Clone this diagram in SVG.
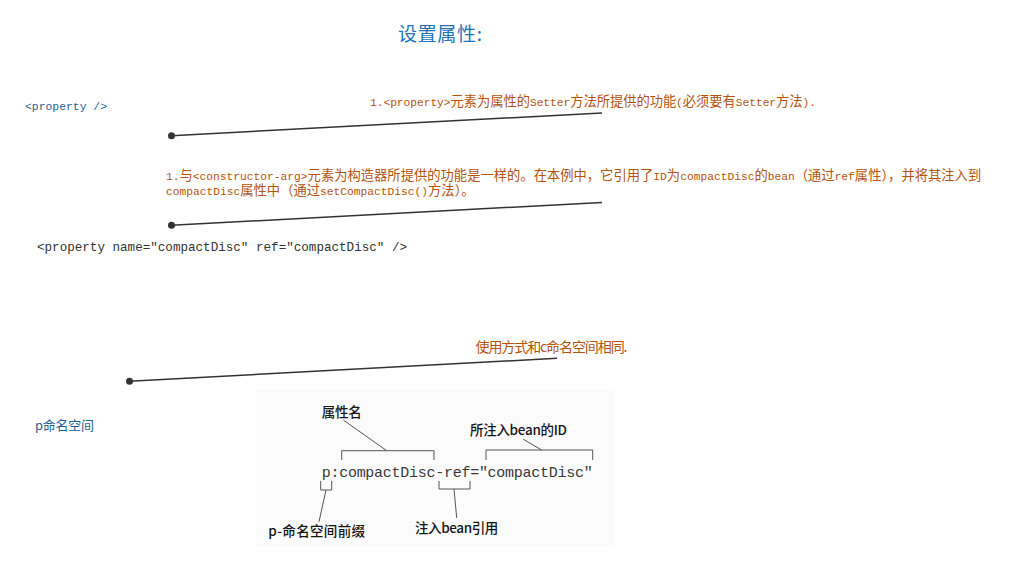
<svg xmlns="http://www.w3.org/2000/svg" width="1012" height="574" viewBox="0 0 1012 574">
<style>
.cjk{font-family:"Noto Sans CJK SC","Noto Sans",sans-serif}
.lbl{font-family:"Noto Sans CJK SC",sans-serif;font-size:13.3px;fill:#b5530f}
.lat{font-family:"Liberation Mono","DejaVu Sans Mono",monospace;font-size:11.25px}
.blue{fill:#1f5f94}
.mono{font-family:"Liberation Mono","DejaVu Sans Mono",monospace}
.img{font-family:"Noto Sans CJK SC",sans-serif;font-size:13.5px;font-weight:500;fill:#151515}
.conn{stroke:#333;stroke-width:1.5;fill:none}
.dot{fill:#333}
.br{stroke:#555;stroke-width:1;fill:none}
</style>
<rect width="1012" height="574" fill="#ffffff"/>

<g id="title">
<text x="398" y="41" class="cjk" font-size="19" fill="#1e74b8" textLength="84">设置属性:</text>
</g>

<g id="property-tag">
<text x="25" y="110" class="mono blue" font-size="11.4" textLength="82">&lt;property /&gt;</text>
</g>

<g id="note-setter">
<text x="370" y="106" class="lbl" textLength="446"><tspan class="lat">1.&lt;property&gt;</tspan>元素为属性的<tspan class="lat">Setter</tspan>方法所提供的功能<tspan class="lat">(</tspan>必须要有<tspan class="lat">Setter</tspan>方法<tspan class="lat">).</tspan></text>
</g>

<g id="note-constructor">
<text class="lbl"><tspan x="166" y="180"><tspan class="lat">1.</tspan>与<tspan class="lat">&lt;constructor-arg&gt;</tspan>元素为构造器所提供的功能是一样的。在本例中，它引用了<tspan class="lat">ID</tspan>为<tspan class="lat">compactDisc</tspan>的<tspan class="lat">bean</tspan>（通过<tspan class="lat">ref</tspan>属性），并将其注入到</tspan><tspan x="166" y="195"><tspan class="lat">compactDisc</tspan>属性中（通过<tspan class="lat">setCompactDisc()</tspan>方法）。</tspan></text>
</g>

<g id="property-code">
<text x="37" y="251" class="mono" font-size="12.6" fill="#333" textLength="370">&lt;property name="compactDisc" ref="compactDisc" /&gt;</text>
</g>

<g id="note-pnamespace">
<text x="475.5" y="352" class="cjk" font-size="14" fill="#b5530f" textLength="152">使用方式和c命名空间相同.</text>
</g>

<g id="p-namespace">
<text x="35" y="430" class="cjk blue" font-size="13" textLength="59">p命名空间</text>
</g>

<g id="p-namespace-figure">
<rect x="256" y="390" width="358" height="156" fill="#fbfbfb"/>
<text x="321.7" y="417" class="img" textLength="40">属性名</text>
<text x="470" y="435" class="img" textLength="97">所注入bean的ID</text>
<text x="321.7" y="477" class="mono" font-size="15" fill="#3a3a3a" textLength="271">p:compactDisc-ref="compactDisc"</text>
<path class="br" d="M341.7,460 V450.7 H434 V460 M386.7,450.7 L343.3,420"/>
<path class="br" d="M486,460 V450 H592.7 V460 M541.7,450 L523.3,439.3"/>
<path class="br" d="M320.7,481 V490 H331.7 V481 M326,490 L319,521.7"/>
<path class="br" d="M439,481 V489 H470 V481 M454,489 L456.7,518"/>
<text x="268.3" y="536" class="img" textLength="96.7">p-命名空间前缀</text>
<text x="415" y="533" class="img" textLength="83.3">注入bean引用</text>
</g>

<g id="connectors">
<line class="conn" x1="171.5" y1="135.7" x2="602" y2="113"/>
<circle class="dot" cx="171.5" cy="135.7" r="3.5"/>
<line class="conn" x1="171.5" y1="225.3" x2="602" y2="202.5"/>
<circle class="dot" cx="171.5" cy="225.3" r="3.5"/>
<line class="conn" x1="129.5" y1="381.3" x2="557" y2="358.3"/>
<circle class="dot" cx="129.5" cy="381.3" r="3.5"/>
</g>
</svg>
